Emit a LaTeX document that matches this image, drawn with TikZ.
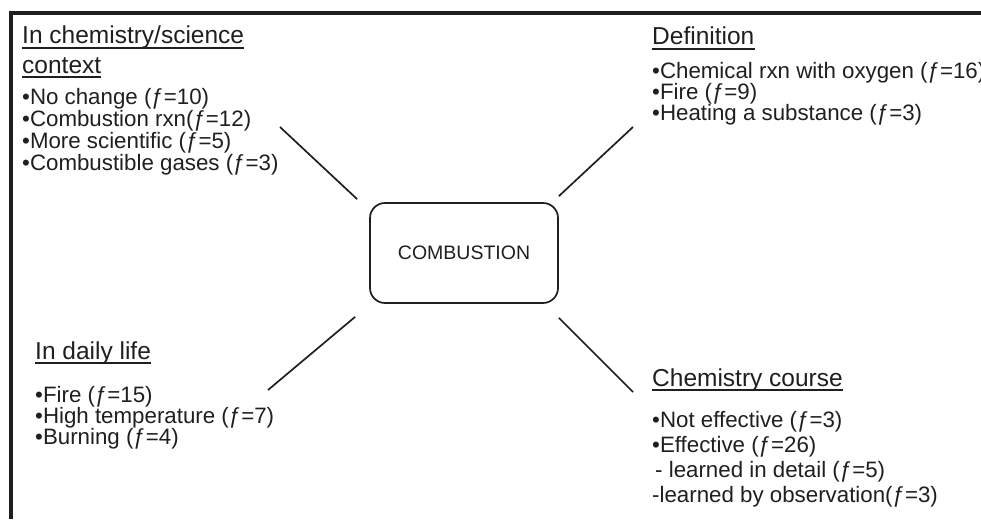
\documentclass[tikz,border=0pt]{standalone}
\usepackage{fontspec}
\setmainfont{Liberation Sans}
\usepackage{tikz}

\newcommand\itemsize{\fontsize{22.3}{21}\selectfont}
\newcommand\headsize{\fontsize{24.5}{24}\selectfont}

\tikzset{
  frame/.style={line width=3.5pt},
  spoke/.style={line width=1.7pt},
  hub/.style={draw, line width=1.7pt, rounded corners=15pt,
    minimum width=188pt, minimum height=100pt, inner sep=0pt,
    font=\fontsize{19.5}{19.5}\selectfont},
  heading/.style={font=\headsize, inner sep=0pt, anchor=base west},
  item/.style={font=\itemsize, inner sep=0pt, anchor=base west},
  uline/.style={line width=1.4pt}
}

\begin{document}
\begin{tikzpicture}[x=1pt,y=-1pt,color=black!88]
\useasboundingbox (0,0) rectangle (981,519);

% frame, cut off on the right and at the bottom
\draw[frame] (11,519) -- (11,13) -- (981,13);

% centre
\node[hub] (hub) at (464,253) {COMBUSTION};

% free ends of the spokes
\coordinate (ul) at (280,127);
\coordinate (ur) at (633,127);
\coordinate (ll) at (268,390);
\coordinate (lr) at (633,392);

\draw[spoke] ([shift={(-12,-3)}]hub.north west) -- (ul);
\draw[spoke] ([shift={(0,-6)}]hub.north east) -- (ur);
\draw[spoke] ([shift={(-14,13)}]hub.south west) -- (ll);
\draw[spoke] ([shift={(0,14)}]hub.south east) -- (lr);

% headings
\node[heading] (sci1) at (22,44) {In chemistry/science};
\node[heading] (sci2) at (22,73) {context};
\node[heading] (def) at (652,45) {Definition};
\node[heading] (life) at (35,359) {In daily life};
\node[heading] (course) at (652,386) {Chemistry course};

\foreach \h in {sci1,sci2,def,life,course}
  \draw[uline] ([yshift=-4pt]\h.base west) -- ([yshift=-4pt]\h.base east);

% lists
\foreach \txt [count=\i] in {{•No change (ƒ=10)},{•Combustion rxn(ƒ=12)},
    {•More scientific (ƒ=5)},{•Combustible gases (ƒ=3)}}
  \node[item] (sci-\i) at (22,{104+22*(\i-1)}) {\txt};

\foreach \txt [count=\i] in {{•Chemical rxn with oxygen (ƒ=16)},{•Fire (ƒ=9)},
    {•Heating a substance (ƒ=3)}}
  \node[item] (def-\i) at (652,{78+21*(\i-1)}) {\txt};

\foreach \txt [count=\i] in {{•Fire (ƒ=15)},{•High temperature (ƒ=7)},
    {•Burning (ƒ=4)}}
  \node[item] (life-\i) at (35,{402+21*(\i-1)}) {\txt};

\foreach \txt [count=\i] in {{•Not effective (ƒ=3)},{•Effective (ƒ=26)},
    {\hspace*{3pt}- learned in detail (ƒ=5)},{-learned by observation(ƒ=3)}}
  \node[item] (course-\i) at (652,{427+25*(\i-1)}) {\txt};
\end{tikzpicture}
\end{document}
